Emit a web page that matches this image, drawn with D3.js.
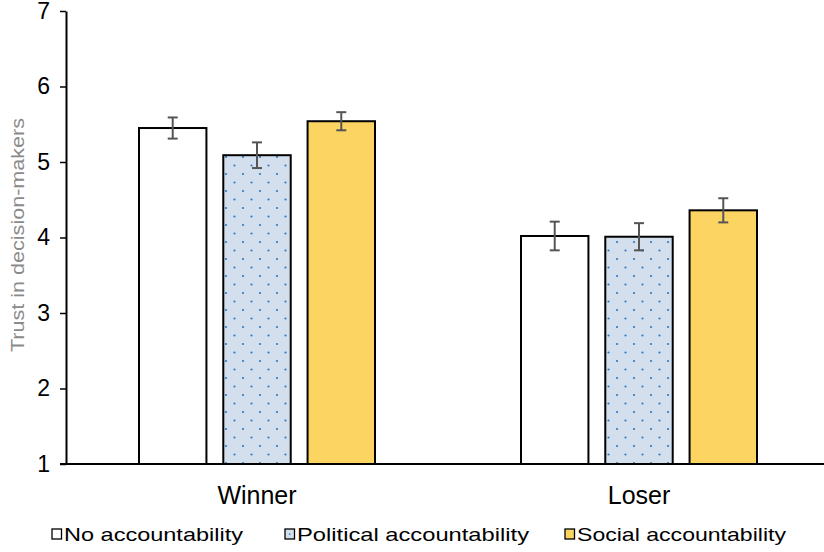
<!DOCTYPE html>
<html><head><meta charset="utf-8">
<script src="https://cdn.jsdelivr.net/npm/d3@7"></script>
<style>
body{margin:0;background:#fff;}
text{font-family:"Liberation Sans",Arial,Helvetica,sans-serif;}
</style></head>
<body><svg id="c" width="824" height="552"></svg>
<script>
const groups = ["Winner", "Loser"];
const series = ["No accountability", "Political accountability", "Social accountability"];
const winnerValues = [5.45, 5.09, 5.54];
const winnerErrors = [0.14, 0.17, 0.12];
const loserValues = [4.02, 4.01, 4.36];
const loserErrors = [0.19, 0.18, 0.16];
const yTicks = [1, 2, 3, 4, 5, 6, 7];
const yLabel = "Trust in decision-makers";

const valuesByGroup = {Winner: winnerValues, Loser: loserValues};
const errorsByGroup = {Winner: winnerErrors, Loser: loserErrors};
const data = [];
groups.forEach(g => series.forEach((s, i) => data.push({group: g, series: s, value: valuesByGroup[g][i], err: errorsByGroup[g][i]})));

const svg = d3.select("#c");
const defs = svg.append("defs");
const pat = defs.append("pattern").attr("id", "dots").attr("patternUnits", "userSpaceOnUse")
  .attr("width", 17).attr("height", 17).attr("x", 3).attr("y", 2);
pat.append("rect").attr("width", 17).attr("height", 17).attr("fill", "#d3dfec");
pat.append("circle").attr("cx", 2).attr("cy", 2).attr("r", 1.1).attr("fill", "#2a7bc4");
pat.append("circle").attr("cx", 10.5).attr("cy", 10.5).attr("r", 1.1).attr("fill", "#2a7bc4");

const fills = {"No accountability": "#ffffff", "Political accountability": "url(#dots)", "Social accountability": "#fcd462"};

const y = d3.scaleLinear().domain([1, 7]).range([464, 11]);
const x0 = d3.scaleBand().domain(groups).range([66, 830]).padding(0);
const x1 = d3.scaleBand().domain(series).range([73, x0.bandwidth() - 73]).paddingInner(0.2).paddingOuter(0);

// bars
svg.append("g").selectAll("rect").data(data).join("rect")
  .attr("x", d => x0(d.group) + x1(d.series))
  .attr("y", d => y(d.value))
  .attr("width", x1.bandwidth())
  .attr("height", d => y(1) - y(d.value))
  .attr("fill", d => fills[d.series])
  .attr("stroke", "#000").attr("stroke-width", 2);

// error bars
const eg = svg.append("g").attr("stroke", "#555").attr("stroke-width", 2);
data.forEach(d => {
  const cx = x0(d.group) + x1(d.series) + x1.bandwidth() / 2;
  eg.append("line").attr("x1", cx).attr("x2", cx).attr("y1", y(d.value + d.err)).attr("y2", y(d.value - d.err));
  eg.append("line").attr("x1", cx - 5).attr("x2", cx + 5).attr("y1", y(d.value + d.err)).attr("y2", y(d.value + d.err));
  eg.append("line").attr("x1", cx - 5).attr("x2", cx + 5).attr("y1", y(d.value - d.err)).attr("y2", y(d.value - d.err));
});

// y axis
const yAxis = svg.append("g").attr("transform", "translate(66,0)")
  .call(d3.axisLeft(y).tickValues(yTicks).tickFormat(d3.format("d")).tickSize(6).tickPadding(10).tickSizeOuter(0));
yAxis.select(".domain").attr("stroke", "#000").attr("stroke-width", 2);
yAxis.selectAll(".tick line").attr("stroke", "#000").attr("stroke-width", 1.5);
yAxis.selectAll(".tick text").attr("font-size", 23).attr("fill", "#000")
  .style("font-family", '"Liberation Sans",Arial,sans-serif');

// x axis
const xAxis = svg.append("g").attr("transform", "translate(0,464)")
  .call(d3.axisBottom(x0).tickSize(0).tickPadding(22).tickSizeOuter(0));
xAxis.select(".domain").attr("stroke", "#000").attr("stroke-width", 2).attr("d", "M60,0H830");
xAxis.selectAll(".tick text").attr("font-size", 25).attr("fill", "#000")
  .style("font-family", '"Liberation Sans",Arial,sans-serif');

// y label
svg.append("text").attr("transform", "translate(24,235) rotate(-90)")
  .attr("text-anchor", "middle").attr("font-size", 18.5).attr("fill", "#8a8a8a")
  .attr("textLength", 234).attr("lengthAdjust", "spacingAndGlyphs")
  .text(yLabel);

// legend
const legendX = [52, 285, 565];
const legendW = [179, 232, 209];
const lg = svg.append("g");
series.forEach((s, i) => {
  const g = lg.append("g").attr("transform", `translate(${legendX[i]},529)`);
  g.append("rect").attr("width", 9.5).attr("height", 10).attr("fill", s === "Political accountability" ? "#d3dfec" : fills[s])
    .attr("stroke", "#000").attr("stroke-width", 1.3);
  if (s === "Political accountability") g.append("rect").attr("x", 4).attr("y", 4.5).attr("width", 1.4).attr("height", 1.4).attr("fill", "#2a7bc4");
  g.append("text").attr("x", 12).attr("y", 12).attr("font-size", 19).attr("fill", "#000")
    .attr("textLength", legendW[i]).attr("lengthAdjust", "spacingAndGlyphs").text(s);
});
</script></body></html>
